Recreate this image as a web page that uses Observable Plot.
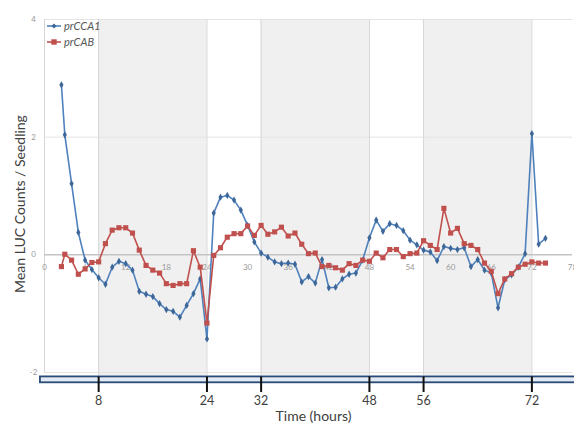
<!DOCTYPE html>
<html>
<head>
<meta charset="utf-8">
<script src="https://cdn.jsdelivr.net/npm/d3@7"></script>
<script src="https://cdn.jsdelivr.net/npm/@observablehq/plot@0.6"></script>
<style>
  body { margin: 0; background: #fff; }
  #wrap { position: relative; width: 574px; height: 426px; font-family: Lato, "Open Sans", sans-serif; }
  #legend { position: absolute; left: 47px; top: 18px; font-style: italic; font-size: 11px; color: #555; line-height: 16px; }
  #legend .row { display: flex; align-items: center; height: 16px; }
  #legend svg { margin-right: 3px; }
</style>
</head>
<body>
<div id="wrap"><div id="chart"></div><div id="legend"></div></div>
<script>
// ---- data ----
const hours = [2.5, 3, 4, 5, 6, 7, 8, 9, 10, 11, 12, 13, 14, 15, 16, 17, 18, 19, 20,
  21, 22, 23, 24, 25, 26, 27, 28, 29, 30, 31, 32, 33, 34, 35, 36, 37, 38, 39, 40,
  41, 42, 43, 44, 45, 46, 47, 48, 49, 50, 51, 52, 53, 54, 55, 56, 57, 58, 59, 60,
  61, 62, 63, 64, 65, 66, 67, 68, 69, 70, 71, 72, 73, 74];
const prCCA1 = [2.89, 2.04, 1.21, 0.38, -0.09, -0.25, -0.39, -0.50, -0.21, -0.11, -0.15, -0.26, -0.62, -0.67, -0.71, -0.83, -0.93, -0.96, -1.06,
  -0.86, -0.66, -0.41, -1.43, 0.71, 0.98, 1.01, 0.93, 0.76, 0.50, 0.22, 0.03, -0.04, -0.12, -0.15, -0.14, -0.16, -0.46, -0.37, -0.48,
  -0.08, -0.56, -0.55, -0.41, -0.33, -0.31, -0.09, 0.29, 0.59, 0.40, 0.53, 0.50, 0.41, 0.25, 0.17, 0.08, 0.05, -0.10, 0.14, 0.11,
  0.09, 0.12, -0.20, -0.08, -0.26, -0.31, -0.90, -0.42, -0.34, -0.21, 0.02, 2.06, 0.18, 0.28];
const prCAB = [-0.20, 0.01, -0.09, -0.33, -0.24, -0.13, -0.12, 0.19, 0.42, 0.46, 0.46, 0.37, 0.08, -0.18, -0.26, -0.31, -0.49, -0.52, -0.49,
  -0.49, 0.07, -0.21, -1.16, -0.01, 0.12, 0.30, 0.36, 0.36, 0.49, 0.33, 0.50, 0.35, 0.39, 0.47, 0.32, 0.37, 0.18, 0.02, 0.03,
  -0.20, -0.18, -0.22, -0.26, -0.15, -0.18, -0.09, -0.11, 0.03, -0.05, 0.09, 0.09, -0.03, 0.02, 0.03, 0.24, 0.16, 0.09, 0.79, 0.37,
  0.45, 0.19, 0.16, 0.09, -0.14, -0.28, -0.66, -0.41, -0.32, -0.21, -0.16, -0.12, -0.14, -0.14];
const seriesNames = ["prCCA1", "prCAB"];
const darkStarts = [8, 32, 56];
const darkEnds = [24, 48, 72];
const innerXTicks = [0, 6, 12, 18, 24, 30, 36, 42, 48, 54, 60, 66, 72, 78];
const yTicks = [4, 2, 0, -2];
const bottomTicks = [8, 24, 32, 48, 56, 72];
const xTitle = "Time (hours)";
const yTitle = "Mean LUC Counts / Seedling";

// ---- styles ----
const blue = "#4F81BD", blueDot = "#3d6799";
const red = "#C0504D";

const cca = hours.map((t, i) => ({t, v: prCCA1[i]}));
const cab = hours.map((t, i) => ({t, v: prCAB[i]}));
const bands = darkStarts.map((s, i) => ({s, e: darkEnds[i]}));

const chart = Plot.plot({
  width: 574, height: 426,
  marginLeft: 44, marginRight: 2, marginTop: 19, marginBottom: 54,
  style: {fontFamily: "Lato, 'Open Sans', sans-serif", background: "transparent"},
  x: {domain: [0, 78], axis: null},
  y: {domain: [-2, 4], axis: null},
  marks: [
    Plot.rect(bands, {x1: "s", x2: "e", y1: -2.05, y2: 4, fill: "#f0f0f0"}),
    Plot.ruleY([4, 2, -2], {stroke: "#e4e4e4", strokeWidth: 1}),
    Plot.ruleX([...darkStarts, ...darkEnds], {y1: -2.05, y2: 4, stroke: "#d6d6d6", strokeWidth: 1}),
    Plot.ruleX([0], {y1: -2, y2: 4, stroke: "#d6d6d6", strokeWidth: 1}),
    Plot.ruleY([0], {stroke: "#c4c4c4", strokeWidth: 1.5}),
    Plot.text(innerXTicks, {x: d => d, y: 0, dy: 13, text: d => String(d), fontSize: 8, fill: "#9a9a9a"}),
    Plot.text(yTicks, {x: 0, y: d => d, dx: -11, text: d => d < 0 ? "-" + Math.abs(d) : String(d), fontSize: 8, fill: "#9a9a9a"}),
    Plot.line(cca, {x: "t", y: "v", stroke: blue, strokeWidth: 1.6}),
    Plot.dot(cca, {x: "t", y: "v", symbol: "diamond", r: 2.2, fill: blueDot, stroke: "none"}),
    Plot.line(cab, {x: "t", y: "v", stroke: red, strokeWidth: 1.6}),
    Plot.dot(cab, {x: "t", y: "v", symbol: "square", r: 2.9, fill: red, stroke: "none"}),
    // bottom time bar
    Plot.rect([0], {x1: -0.6, x2: 78.8, y1: -2.075, y2: -2.175, fill: "#e3eaf4", stroke: "#2a4a78", strokeWidth: 1.8}),
    Plot.ruleX(bottomTicks, {y1: -2.075, y2: -2.34, stroke: "#111", strokeWidth: 2}),
    Plot.text(bottomTicks, {x: d => d, y: -2.34, dy: 8, text: d => String(d), fontSize: 12.5, fill: "#404040"}),
    Plot.text([xTitle], {frameAnchor: "bottom", lineAnchor: "middle", dx: 5, dy: 44, fontSize: 14, fill: "#404040"}),
    Plot.text([yTitle], {frameAnchor: "left", textAnchor: "middle", rotate: -90, dx: -24, dy: 8, fontSize: 14, fill: "#404040"})
  ]
});
document.getElementById("chart").appendChild(chart);

// legend
const legend = document.getElementById("legend");
const legendStyles = [
  {color: blue, dot: blueDot, shape: "diamond"},
  {color: red, dot: red, shape: "square"}
];
seriesNames.forEach((name, i) => {
  const st = legendStyles[i];
  const row = document.createElement("div");
  row.className = "row";
  const marker = st.shape === "diamond"
    ? `<path d="M7,1.5 L9.5,4 L7,6.5 L4.5,4 Z" fill="${st.dot}"/>`
    : `<rect x="4.3" y="1.3" width="5.4" height="5.4" fill="${st.dot}"/>`;
  row.innerHTML = `<svg width="14" height="8"><line x1="0" y1="4" x2="14" y2="4" stroke="${st.color}" stroke-width="1.6"/>${marker}</svg><span>${name}</span>`;
  legend.appendChild(row);
});
</script>
</body>
</html>
